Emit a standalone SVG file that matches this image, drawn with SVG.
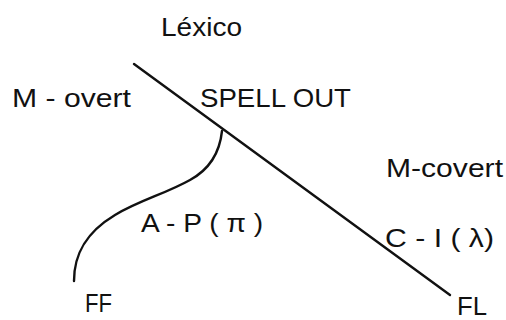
<svg xmlns="http://www.w3.org/2000/svg" width="506" height="320" viewBox="0 0 506 320">
<style>
text{font-family:"Liberation Sans","DejaVu Sans",sans-serif;font-size:26px;fill:#111}
.ln{fill:none;stroke:#111;stroke-width:2.4;stroke-linecap:round}
</style>
<rect width="506" height="320" fill="#fff"/>
<g id="connectors">
<path class="ln" d="M134,64 L450,295"/>
<path class="ln" d="M222,131 C220,150 212,168 190,180 C165,194 140,200 115,215 C85,233 74,255 74,281"/>
</g>
<g id="lexico"><text x="161" y="36" textLength="81" lengthAdjust="spacingAndGlyphs">Léxico</text></g>
<g id="m-overt"><text x="12" y="107" textLength="119" lengthAdjust="spacingAndGlyphs">M - overt</text></g>
<g id="spell-out"><text x="200" y="107" textLength="151" lengthAdjust="spacingAndGlyphs">SPELL OUT</text></g>
<g id="m-covert"><text x="386" y="177" textLength="117" lengthAdjust="spacingAndGlyphs">M-covert</text></g>
<g id="a-p"><text x="141" y="232" textLength="122" lengthAdjust="spacingAndGlyphs">A - P ( π )</text></g>
<g id="c-i"><text x="385" y="247" textLength="109" lengthAdjust="spacingAndGlyphs">C - I ( λ)</text></g>
<g id="ff"><text x="85" y="312" textLength="27" lengthAdjust="spacingAndGlyphs">FF</text></g>
<g id="fl"><text x="457" y="315" textLength="30" lengthAdjust="spacingAndGlyphs">FL</text></g>
</svg>
